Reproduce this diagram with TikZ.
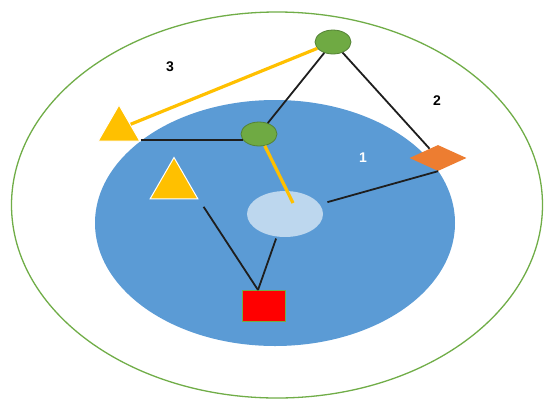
\documentclass[tikz,border=0pt]{standalone}
\usepackage{fontspec}
\setsansfont{Liberation Sans}
\usetikzlibrary{shapes.geometric}
\definecolor{ringc}{HTML}{70AD47}
\definecolor{corec}{HTML}{5B9BD5}
\definecolor{hubc}{HTML}{BDD7EE}
\definecolor{dotc}{HTML}{6FAA43}
\definecolor{dotedge}{HTML}{548235}
\definecolor{warnc}{HTML}{FFC000}
\definecolor{kitec}{HTML}{ED7D31}
\definecolor{wirec}{HTML}{1E1E1E}

\begin{document}
\begin{tikzpicture}[x=1pt,y=-1pt,
    gdot/.style={ellipse, fill=dotc, draw=dotedge, line width=0.8pt,
      minimum width=36pt, minimum height=24pt, inner sep=0pt},
    warn/.style={regular polygon, regular polygon sides=3, fill=warnc,
      draw=white, line width=1pt, inner sep=0pt},
    lbl/.style={font=\sffamily\bfseries\fontsize{14}{16}\selectfont, inner sep=0pt},
    wire/.style={draw=wirec, line width=1.8pt},
    beam/.style={draw=warnc, line width=3.2pt}]
  \useasboundingbox (0,0) rectangle (544,400);
  \fill[white] (0,0) rectangle (544,400);

  % ============================================================
  %                       ZONES
  % ============================================================
  \node[ellipse, draw=ringc, line width=1.3pt,
    minimum width=531pt, minimum height=386pt] (ring) at (277,205) {};
  \node[ellipse, fill=corec,
    minimum width=360pt, minimum height=246pt] (core) at (275,223) {};
  \node[ellipse, fill=hubc,
    minimum width=76pt, minimum height=46pt] (hub) at (285,214) {};

  % ============================================================
  %                       PARTS
  % ============================================================
  \node[gdot] (top) at (333,42) {};
  \node[gdot] (mid) at (259,134) {};
  \node[warn, minimum size=48pt] (tri1) at (119,129) {};
  \node[warn, minimum size=55pt] (tri2) at (174,185) {};
  \node[diamond, fill=kitec, minimum width=57pt, minimum height=26pt,
    inner sep=0pt] (kite) at (438,158) {};
  \node[rectangle, fill=red, draw=ringc, line width=1.5pt,
    minimum width=43pt, minimum height=31pt] (box) at (264,306) {};

  \node[lbl] (n3) at (170,67) {3};
  \node[lbl] (n2) at (437,101) {2};
  \node[lbl, text=white] (n1) at (363,158) {1};

  \coordinate (hubtip) at (293,203);
  \coordinate (meet) at (258,290);

  % ============================================================
  %                       LINKS
  % ============================================================
  \draw[beam] (top) -- (tri1);
  \draw[wire] (top) -- (mid);
  \draw[wire] (top) -- (kite);
  \draw[wire] (tri1.corner 3 |- mid.200) -- (mid.200);
  \draw[beam] (mid) -- (hubtip);
  \draw[wire, shorten <=8pt] (hub) -- (kite.south);
  \draw[wire, shorten <=9pt] (tri2.corner 3) -- (meet);
  \draw[wire, shorten <=2pt] (hub.250) -- (meet);

\end{tikzpicture}
\end{document}
